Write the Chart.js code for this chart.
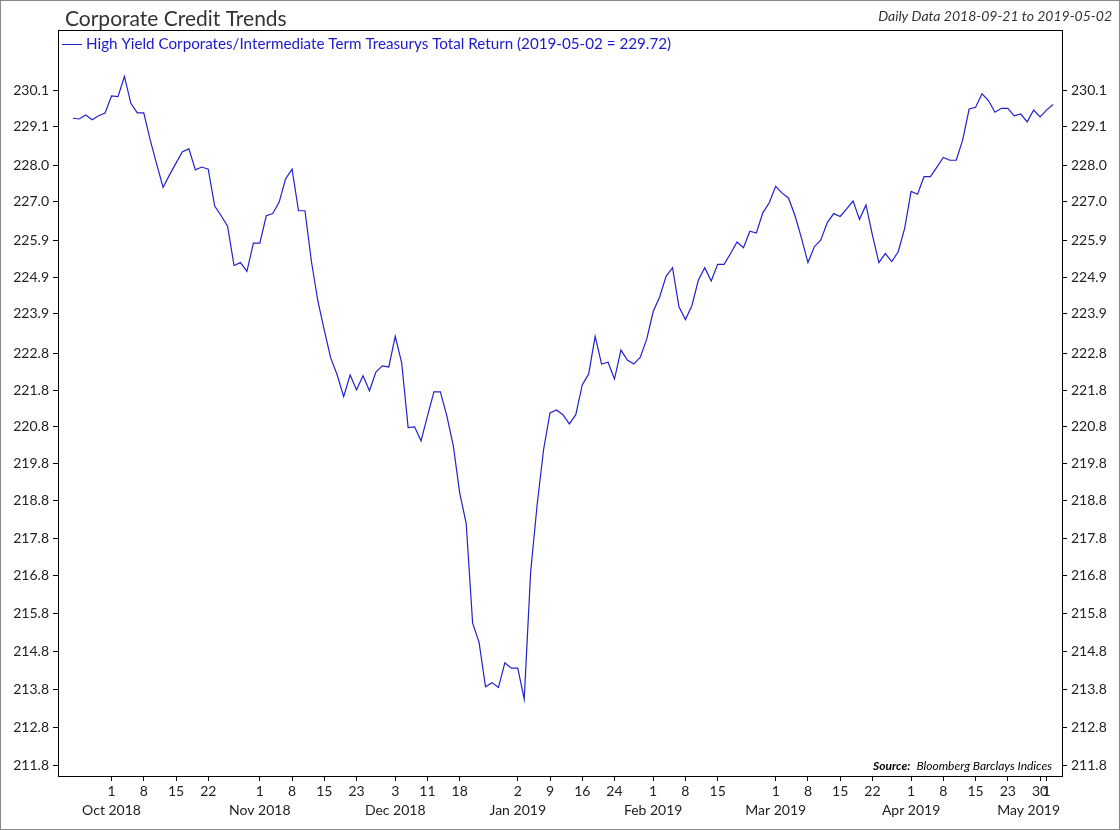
<!DOCTYPE html>
<html>
<head>
<meta charset="utf-8">
<script src="https://cdn.jsdelivr.net/npm/chart.js@4/dist/chart.umd.min.js"></script>
<style>
  html, body { margin: 0; padding: 0; background: #fff; }
  #wrap { width: 1120px; height: 830px; }
</style>
</head>
<body>
<div id="wrap"><canvas id="creditChart"></canvas></div>
<script>
// Trading calendar
const startDate = '2018-09-21';
const endDate = '2019-05-02';
const holidays = ['2018-11-22', '2018-12-05', '2018-12-25', '2019-01-01', '2019-01-21', '2019-02-18', '2019-04-19'];

// HY corporates / intermediate treasurys total return ratio, one value per trading day
const values = [
  229.33, 229.31, 229.42, 229.29, 229.40, 229.48, 229.96, 229.94, 230.51, 229.75,
  229.48, 229.48, 228.72, 228.04, 227.39, 227.74, 228.07, 228.39, 228.47, 227.88,
  227.96, 227.90, 226.87, 226.60, 226.31, 225.22, 225.30, 225.06, 225.84, 225.84,
  226.60, 226.66, 226.98, 227.63, 227.90, 226.74, 226.74, 225.33, 224.24, 223.43,
  222.67, 222.21, 221.62, 222.21, 221.81, 222.19, 221.78, 222.29, 222.46, 222.43,
  223.27, 222.54, 220.78, 220.80, 220.42, 221.10, 221.75, 221.75, 221.10, 220.29,
  219.01, 218.20, 215.54, 215.03, 213.86, 213.97, 213.84, 214.49, 214.35, 214.35,
  213.54, 216.90, 218.69, 220.18, 221.18, 221.26, 221.13, 220.88, 221.13, 221.94,
  222.24, 223.27, 222.51, 222.56, 222.10, 222.89, 222.62, 222.51, 222.70, 223.19,
  223.95, 224.35, 224.92, 225.16, 224.08, 223.73, 224.11, 224.81, 225.16, 224.79,
  225.25, 225.25, 225.55, 225.87, 225.71, 226.17, 226.12, 226.68, 226.96, 227.42,
  227.23, 227.09, 226.60, 225.98, 225.30, 225.74, 225.93, 226.41, 226.66, 226.58,
  226.79, 227.01, 226.50, 226.90, 226.06, 225.30, 225.55, 225.33, 225.60, 226.25,
  227.28, 227.20, 227.69, 227.69, 227.96, 228.23, 228.15, 228.15, 228.72, 229.59,
  229.64, 230.02, 229.83, 229.50, 229.61, 229.61, 229.40, 229.45, 229.23, 229.56,
  229.37, 229.56, 229.72
];

// Axis labels
const yTicks = [211.8, 212.8, 213.8, 214.8, 215.8, 216.8, 217.8, 218.8, 219.8, 220.8,
  221.8, 222.8, 223.9, 224.9, 225.9, 227.0, 228.0, 229.1, 230.1];
const xTickDates = [
  '2018-10-01', '2018-10-08', '2018-10-15', '2018-10-22',
  '2018-11-01', '2018-11-08', '2018-11-15', '2018-11-23',
  '2018-12-03', '2018-12-11', '2018-12-18',
  '2019-01-02', '2019-01-09', '2019-01-16', '2019-01-24',
  '2019-02-01', '2019-02-08', '2019-02-15',
  '2019-03-01', '2019-03-08', '2019-03-15', '2019-03-22',
  '2019-04-01', '2019-04-08', '2019-04-15', '2019-04-23', '2019-04-30',
  '2019-05-01'
];
const monthLabels = [
  ['2018-10-01', 'Oct 2018'], ['2018-11-01', 'Nov 2018'], ['2018-12-03', 'Dec 2018'],
  ['2019-01-02', 'Jan 2019'], ['2019-02-01', 'Feb 2019'], ['2019-03-01', 'Mar 2019'],
  ['2019-04-01', 'Apr 2019'], ['2019-05-01', 'May 2019']
];

// build the list of trading days
const dates = [];
for (let d = new Date(startDate + 'T00:00:00Z'); d <= new Date(endDate + 'T00:00:00Z'); d.setUTCDate(d.getUTCDate() + 1)) {
  const iso = d.toISOString().slice(0, 10);
  const wd = d.getUTCDay();
  if (wd !== 0 && wd !== 6 && !holidays.includes(iso)) dates.push(iso);
}
const points = values.map((v, i) => ({ x: i, y: v }));
const tickIdx = xTickDates.map(d => dates.indexOf(d));

const FONT = 'Lato, "Open Sans", sans-serif';

// frame, titles, legend, source and month labels
const decorPlugin = {
  id: 'decor',
  afterDraw(chart) {
    const { ctx, chartArea: a, scales } = chart;
    ctx.save();
    ctx.strokeStyle = '#000';
    ctx.lineWidth = 1;
    ctx.strokeRect(a.left + 0.5, a.top + 0.5, a.right - a.left, a.bottom - a.top);
    ctx.strokeStyle = '#888';
    ctx.strokeRect(0.5, 0.5, chart.width - 1, chart.height - 1);

    ctx.fillStyle = '#333';
    ctx.font = '21px ' + FONT;
    ctx.textBaseline = 'alphabetic';
    ctx.textAlign = 'left';
    ctx.fillText('Corporate Credit Trends', 65, 26);

    ctx.font = 'italic 14px ' + FONT;
    ctx.textAlign = 'right';
    ctx.fillText('Daily Data 2018-09-21 to 2019-05-02', 1112, 21);

    ctx.strokeStyle = '#2222cc';
    ctx.beginPath();
    ctx.moveTo(62, 44.5); ctx.lineTo(82, 44.5); ctx.stroke();
    ctx.fillStyle = '#1a1acc';
    ctx.font = '15.2px ' + FONT;
    ctx.textAlign = 'left';
    ctx.fillText('High Yield Corporates/Intermediate Term Treasurys Total Return (2019-05-02 = 229.72)', 86, 49);

    ctx.fillStyle = '#000';
    ctx.textAlign = 'right';
    ctx.font = 'italic 12px ' + FONT;
    const src = 'Bloomberg Barclays Indices';
    ctx.fillText(src, 1052, 770);
    const w = ctx.measureText(src).width;
    ctx.font = 'bold italic 12px ' + FONT;
    ctx.fillText('Source:', 1052 - w - 6, 770);

    ctx.font = '14px ' + FONT;
    ctx.textAlign = 'center';
    ctx.fillStyle = '#222';
    monthLabels.forEach(([d, label]) => {
      let x = scales.x.getPixelForValue(dates.indexOf(d));
      const half = ctx.measureText(label).width / 2;
      if (x + half > a.right - 2) x = a.right - 2 - half;
      ctx.fillText(label, x, 815);
    });
    ctx.restore();
  }
};

const yAxis = (pos) => ({
  type: 'logarithmic',
  position: pos,
  min: 211.53,
  max: 231.83,
  afterBuildTicks: (s) => { s.ticks = yTicks.map(v => ({ value: v })); },
  afterFit: (s) => { s.width = 58; },
  grid: { drawOnChartArea: false, color: '#000', tickLength: 5 },
  border: { display: false },
  ticks: {
    color: '#222',
    font: { family: FONT, size: 14 },
    padding: 4,
    callback: (v) => v.toFixed(1)
  }
});

new Chart(document.getElementById('creditChart'), {
  type: 'line',
  data: {
    datasets: [{
      label: 'High Yield Corporates/Intermediate Term Treasurys Total Return',
      data: points,
      borderColor: '#2222cc',
      borderWidth: 1.2,
      pointRadius: 0,
      tension: 0
    }]
  },
  options: {
    responsive: true,
    maintainAspectRatio: false,
    animation: false,
    layout: { padding: { top: 30, left: 0, right: 0, bottom: 0 } },
    plugins: { legend: { display: false }, tooltip: { enabled: false } },
    scales: {
      x: {
        type: 'linear',
        min: -2.3,
        max: 153.4,
        afterBuildTicks: (s) => { s.ticks = tickIdx.map(i => ({ value: i })); },
        afterFit: (s) => { s.height = 54; },
        grid: { drawOnChartArea: false, color: '#000', tickLength: 5 },
        border: { display: false },
        ticks: {
          autoSkip: false,
          maxRotation: 0,
          color: '#222',
          font: { family: FONT, size: 14 },
          padding: 2,
          callback: (v) => String(parseInt(dates[v].slice(8), 10))
        }
      },
      y: yAxis('left'),
      y2: yAxis('right')
    }
  },
  plugins: [decorPlugin]
});
</script>
</body>
</html>
